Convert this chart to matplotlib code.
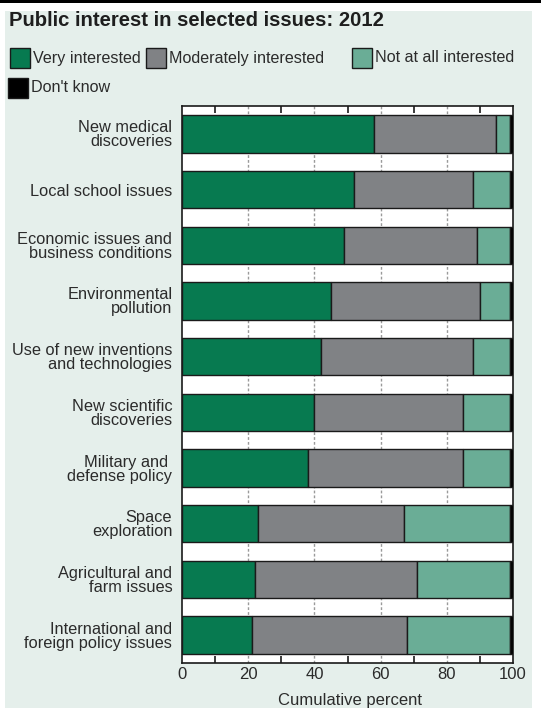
import matplotlib
matplotlib.use("Agg")
import matplotlib.pyplot as plt
from matplotlib.patches import Rectangle

# data (percent)
issues = ["New medical\ndiscoveries", "Local school issues",
          "Economic issues and\nbusiness conditions", "Environmental\npollution",
          "Use of new inventions\nand technologies", "New scientific\ndiscoveries",
          "Military and \ndefense policy", "Space\nexploration",
          "Agricultural and\nfarm issues", "International and\nforeign policy issues"]
very = [58, 52, 49, 45, 42, 40, 38, 23, 22, 21]
moderately = [37, 36, 40, 45, 46, 45, 47, 44, 49, 47]
not_at_all = [4, 11, 10, 9, 11, 14, 14, 32, 28, 31]
dont_know = [1, 1, 1, 1, 1, 1, 1, 1, 1, 1]
series_names = ["Very interested", "Moderately interested", "Not at all interested", "Don't know"]
x_ticks = [0, 20, 40, 60, 80, 100]

colors = ["#077a50", "#808285", "#6aad96", "#000000"]
mint = "#e5efeb"
text_col = "#2b2b2b"

plt.rcParams['font.family'] = ['Liberation Sans', 'DejaVu Sans']

W, H = 547, 708
fig = plt.figure(figsize=(W / 100, H / 100), dpi=100)
fig.patch.set_facecolor("white")

def fx(px):
    return px / W

def fy(py):
    return 1 - py / H

# mint panel and top rule
fig.patches.append(Rectangle((fx(5), 0), fx(527), fy(11), transform=fig.transFigure,
                             facecolor=mint, edgecolor="none", zorder=-10))
fig.patches.append(Rectangle((0, fy(3)), fx(541), 3 / H, transform=fig.transFigure,
                             facecolor="black", edgecolor="none", zorder=-9))

fig.text(fx(9), fy(20), "Public interest in selected issues: 2012", fontsize=14.6,
         fontweight="bold", color="#1e1e1e", va="center", ha="left")

# legend drawn by hand to keep the two-row layout
legend_pos = [(10, 48), (146, 48), (352, 48), (8, 78)]
for name, col, (lx, ly) in zip(series_names, colors, legend_pos):
    fig.patches.append(Rectangle((fx(lx), fy(ly + 20)), fx(20), 20 / H, transform=fig.transFigure,
                                 facecolor=col, edgecolor="#1a1a1a", lw=1.0))
    fig.text(fx(lx + 23), fy(ly + 10), name, fontsize=11.6, color=text_col, va="center", ha="left")

ax = fig.add_axes([fx(182), fy(663), fx(513 - 182), (663 - 106) / H])
ax.set_facecolor("white")

ypos = list(range(len(issues)))
left = [0] * len(issues)
for vals, col in zip([very, moderately, not_at_all, dont_know], colors):
    ax.barh(ypos, vals, left=left, height=0.67, color=col, edgecolor="#1a1a1a",
            linewidth=1.0, zorder=3)
    left = [a + b for a, b in zip(left, vals)]

for gx in [20, 40, 60, 80]:
    ax.axvline(gx, color="#9a9a9a", lw=1.0, ls=(0, (2, 1.5)), zorder=1)

ax.set_xlim(0, 100)
ax.set_ylim(9.5, -0.5)
ax.set_yticks(ypos)
ax.set_yticklabels(issues, fontsize=11.8, color=text_col, linespacing=0.92)
ax.tick_params(axis="y", length=0, pad=7)
ax.set_xticks(x_ticks)
ax.set_xticklabels([str(t) for t in x_ticks], fontsize=12, color=text_col)
ax.set_xticks([10, 30, 50, 70, 90], minor=True)
ax.tick_params(axis="x", which="major", length=0, pad=3)
ax.tick_params(axis="x", which="minor", direction="in", length=5, width=1.2,
               color="#1a1a1a", top=True, bottom=True)
for sp in ax.spines.values():
    sp.set_color("#1a1a1a")
    sp.set_linewidth(1.2)

fig.text(fx(350), fy(700), "Cumulative percent", fontsize=12, color=text_col,
         va="center", ha="center")

fig.savefig("out.png", dpi=100, facecolor=fig.get_facecolor())
